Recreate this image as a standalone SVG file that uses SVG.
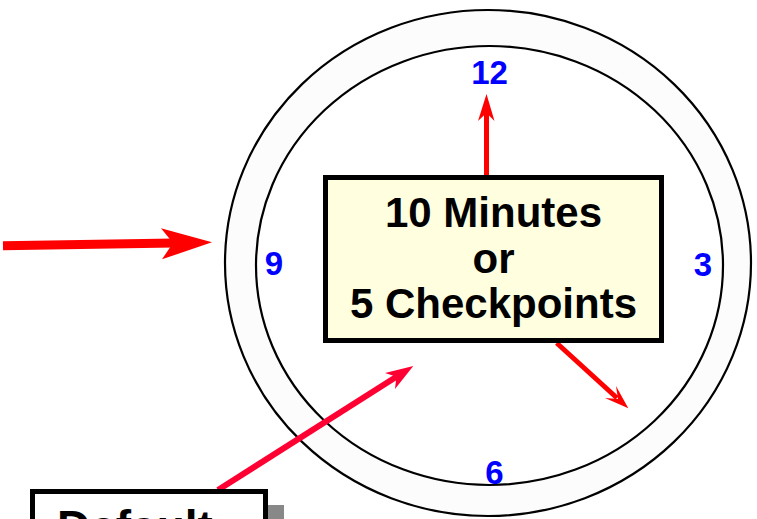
<svg xmlns="http://www.w3.org/2000/svg" width="757" height="519" viewBox="0 0 757 519">
  <style>
    .rim { stroke: #000; stroke-width: 2.2; }
    .num { font-family: "Liberation Sans", Arial, sans-serif; font-weight: bold; font-size: 33px; fill: #0000ff; text-anchor: middle; }
    .label { font-family: "Liberation Sans", Arial, sans-serif; font-weight: bold; font-size: 42px; fill: #000; text-anchor: middle; }
    .box { stroke: #000; stroke-width: 5; }
    .wire { fill: none; stroke-linecap: butt; }
  </style>
  <rect width="757" height="519" fill="#fff"/>

  <!-- clock face: outer rim, inner dial -->
  <g id="clock">
    <ellipse class="rim" cx="488" cy="263" rx="263" ry="253" fill="#fcfcfc"/>
    <ellipse class="rim" cx="489.5" cy="265.5" rx="233.5" ry="219.5" fill="#fff"/>
    <text class="num" x="489.5" y="84">12</text>
    <text class="num" x="274" y="275">9</text>
    <text class="num" x="703" y="276">3</text>
    <text class="num" x="494.5" y="484">6</text>
  </g>

  <!-- hands and pointers -->
  <g id="connectors">
    <!-- incoming from the left -->
    <path class="wire" d="M3,245.8 L174,243" stroke="#ff0000" stroke-width="9"/>
    <polygon points="212,242.3 161,228.3 173,243 162,259.3" fill="#ff0000"/>
    <!-- up to 12 -->
    <path class="wire" d="M486.5,177 L486.5,112" stroke="#ff0000" stroke-width="5"/>
    <polygon points="486.5,94 494.5,121 486.5,113 478,121" fill="#ff0000"/>
    <!-- down-right hand -->
    <path class="wire" d="M556.7,343 L617,398" stroke="#ff0000" stroke-width="5"/>
    <polygon points="628.3,408.3 616,386 618,399 605,398" fill="#ff0000"/>
    <!-- from the Default box -->
    <path class="wire" d="M218,490 L398,375.7" stroke="#ff0033" stroke-width="6"/>
    <polygon points="413.3,366 385,373 396.4,376.7 395,389" fill="#ff0033"/>
  </g>

  <g id="interval">
    <rect class="box" x="325.5" y="177.5" width="336" height="163" fill="#ffffe0"/>
    <text class="label" x="493.5" y="227">10 Minutes</text>
    <text class="label" x="493.5" y="273">or</text>
    <text class="label" x="493.5" y="318">5 Checkpoints</text>
  </g>

  <g id="default">
    <rect x="46" y="505" width="238" height="60" fill="#888"/>
    <rect class="box" x="32.5" y="491.5" width="233" height="80" fill="#fff"/>
    <text x="57" y="543" font-family="Liberation Sans, Arial, sans-serif" font-weight="bold" font-size="46" fill="#000">Default</text>
  </g>
</svg>
